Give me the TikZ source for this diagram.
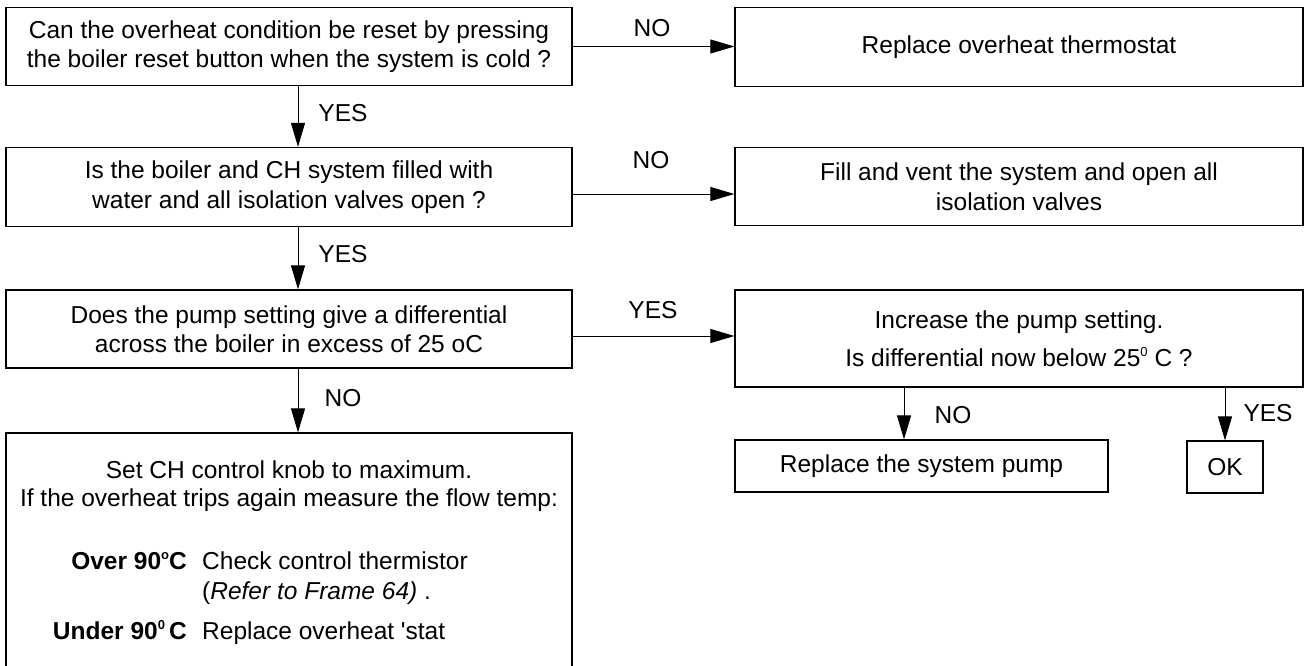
\documentclass[tikz,border=0pt]{standalone}
\usepackage{fontspec}
\setmainfont{Liberation Sans}
\usetikzlibrary{arrows.meta}
\tikzset{
  box/.style={draw, line width=1.2pt, inner sep=0pt, align=center, font=\fontsize{24.5}{29.5}\selectfont},
  arr/.style={line width=1pt, -{Triangle[length=24pt,width=14pt]}},
  lab/.style={font=\fontsize{24.5}{29}\selectfont, inner sep=0pt},
}
\newcommand{\supsm}[1]{\raisebox{0.75ex}{\fontsize{13}{13}\selectfont #1}}
\begin{document}
\begin{tikzpicture}[x=1pt,y=-1pt]
\useasboundingbox (0,0) rectangle (1311,666);
% boxes
\node[box, minimum width=566pt, minimum height=78pt] (b1) at (289,46.5)
  {Can the overheat condition be reset by pressing\\the boiler reset button when the system is cold ?};
\node[box, minimum width=568pt, minimum height=79pt] (b2) at (1019,47)
  {Replace overheat thermostat};
\node[box, minimum width=566pt, minimum height=79pt] (b3) at (289,187)
  {Is the boiler and CH system filled with\\water and all isolation valves open ?};
\node[box, minimum width=568pt, minimum height=78pt] (b4) at (1019,186.5)
  {Fill and vent the system and open all\\isolation valves};
\node[box, minimum width=566pt, minimum height=78pt] (b5) at (289,329)
  {Does the pump setting give a differential\\across the boiler in excess of 25 oC};
\node[box, minimum width=568pt, minimum height=97pt, font=\fontsize{24.5}{38}\selectfont] (b6) at (1019,338.5)
  {Increase the pump setting.\\Is differential now below 25\supsm{0} C ?};
\node[box, minimum width=566pt, minimum height=240pt] (b7) at (289,553) {};
\node[box, minimum width=373pt, minimum height=52pt] (b8) at (921.5,466)
  {Replace the system pump};
\node[box, minimum width=76pt, minimum height=52pt] (ok) at (1225,467)
  {OK};
% text inside b7
\node[lab] (t1) at (289,470) {Set CH control knob to maximum.};
\node[lab] (t2) at (289,500) {If the overheat trips again measure the flow temp:};
\node[lab, anchor=base east] (o1) at (187,569) {\textbf{Over 90\supsm{o}C}};
\node[lab, anchor=base west] (o2) at (202,569) {Check control thermistor};
\node[lab, anchor=base west] (o3) at (202,599) {(\textit{Refer to Frame 64)} .};
\node[lab, anchor=base east] (u1) at (187,639) {\textbf{Under 90\supsm{0}\,C}};
\node[lab, anchor=base west] (u2) at (202,639) {Replace overheat \textquotesingle stat};
% connectors
\draw[arr] (b1.east) -- (b1.east -| b2.west);
\draw[arr] ([yshift=-7pt]b3.east) coordinate (h2) -- (h2 -| b4.west);
\draw[arr] ([yshift=-7pt]b5.east) coordinate (h3) -- (h3 -| b6.west);
\draw[arr] ([xshift=9pt]b1.south) coordinate (v1) -- (v1 |- b3.north);
\draw[arr] ([xshift=9pt]b3.south) coordinate (v2) -- (v2 |- b5.north);
\draw[arr] ([xshift=9pt]b5.south) coordinate (v3) -- (v3 |- b7.north);
\draw[arr] ([xshift=-115pt]b6.south) coordinate (v4) -- (v4 |- b8.north);
\draw[arr] (b6.south -| ok.north) -- (ok.north);
% labels
\node[lab] (l1) at (652,28) {NO};
\node[lab] (l2) at (651,160) {NO};
\node[lab] (l3) at (653,310) {YES};
\node[lab] (l4) at (343,113) {YES};
\node[lab] (l5) at (343,254) {YES};
\node[lab] (l6) at (343,398) {NO};
\node[lab] (l7) at (953,415) {NO};
\node[lab] (l8) at (1268,413) {YES};
\end{tikzpicture}
\end{document}
